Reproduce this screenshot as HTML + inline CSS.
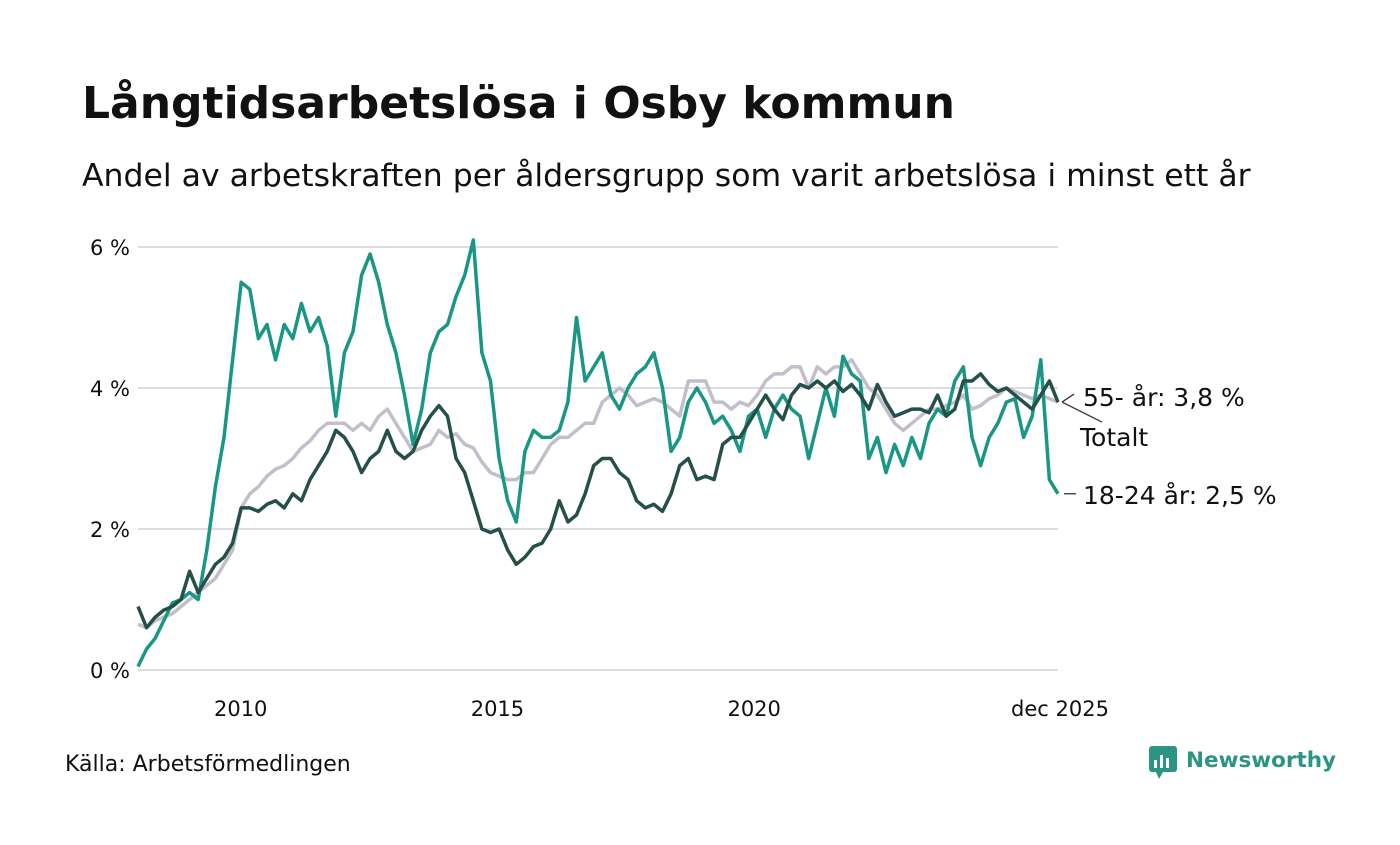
<!DOCTYPE html>
<html><head><meta charset="utf-8">
<style>
body{margin:0;background:#fff;width:1400px;height:840px;overflow:hidden;font-family:"Liberation Sans","DejaVu Sans",sans-serif;color:#111}
svg text{font-family:"DejaVu Sans","Liberation Sans",sans-serif}
</style></head>
<body>
<svg width="1400" height="840">
<text x="82" y="118" font-size="44" font-weight="bold" fill="#111">Långtidsarbetslösa i Osby kommun</text>
<text x="82" y="186" font-size="31.5" fill="#111">Andel av arbetskraften per åldersgrupp som varit arbetslösa i minst ett år</text>
<g id="grid"></g>
<g id="series"></g>
<g id="labels"></g>
<text x="65" y="771" font-size="22" fill="#111">Källa: Arbetsförmedlingen</text>
<g>
<rect x="1149" y="746" width="28" height="26" rx="3" fill="#2a9582"/>
<polygon points="1156,772 1163,772 1159,779" fill="#2a9582"/>
<rect x="1154" y="760" width="3" height="8" fill="#fff"/><rect x="1160" y="755" width="3" height="13" fill="#fff"/><rect x="1166" y="758" width="3" height="10" fill="#fff"/>
<text x="1186" y="767" font-size="21.5" font-weight="bold" fill="#2a9582">Newsworthy</text>
</g>
</svg>
<script>
const yTicks=[0,2,4,6];
const yTickLabels=["0 %","2 %","4 %","6 %"];
const xTickYears=[2010,2015,2020];
const xTickLabels=["2010","2015","2020","dec 2025"];
const youth=[0.05,0.3,0.45,0.7,0.95,1.0,1.1,1.0,1.7,2.6,3.3,4.4,5.5,5.4,4.7,4.9,4.4,4.9,4.7,5.2,4.8,5.0,4.6,3.6,4.5,4.8,5.6,5.9,5.5,4.9,4.5,3.9,3.2,3.7,4.5,4.8,4.9,5.3,5.6,6.1,4.5,4.1,3.0,2.4,2.1,3.1,3.4,3.3,3.3,3.4,3.8,5.0,4.1,4.3,4.5,3.9,3.7,4.0,4.2,4.3,4.5,4.0,3.1,3.3,3.8,4.0,3.8,3.5,3.6,3.4,3.1,3.6,3.7,3.3,3.7,3.9,3.7,3.6,3.0,3.5,4.0,3.6,4.45,4.2,4.1,3.0,3.3,2.8,3.2,2.9,3.3,3.0,3.5,3.7,3.6,4.1,4.3,3.3,2.9,3.3,3.5,3.8,3.85,3.3,3.6,4.4,2.7,2.5];
const total=[0.9,0.6,0.75,0.85,0.9,1.0,1.4,1.1,1.3,1.5,1.6,1.8,2.3,2.3,2.25,2.35,2.4,2.3,2.5,2.4,2.7,2.9,3.1,3.4,3.3,3.1,2.8,3.0,3.1,3.4,3.1,3.0,3.1,3.4,3.6,3.75,3.6,3.0,2.8,2.4,2.0,1.95,2.0,1.7,1.5,1.6,1.75,1.8,2.0,2.4,2.1,2.2,2.5,2.9,3.0,3.0,2.8,2.7,2.4,2.3,2.35,2.25,2.5,2.9,3.0,2.7,2.75,2.7,3.2,3.3,3.3,3.5,3.7,3.9,3.7,3.55,3.9,4.05,4.0,4.1,4.0,4.1,3.95,4.05,3.9,3.7,4.05,3.8,3.6,3.65,3.7,3.7,3.65,3.9,3.6,3.7,4.1,4.1,4.2,4.05,3.95,4.0,3.9,3.8,3.7,3.9,4.1,3.8];
const senior=[0.65,0.6,0.7,0.75,0.8,0.9,1.0,1.1,1.2,1.3,1.5,1.7,2.3,2.5,2.6,2.75,2.85,2.9,3.0,3.15,3.25,3.4,3.5,3.5,3.5,3.4,3.5,3.4,3.6,3.7,3.5,3.3,3.1,3.15,3.2,3.4,3.3,3.35,3.2,3.15,2.95,2.8,2.75,2.7,2.7,2.8,2.8,3.0,3.2,3.3,3.3,3.4,3.5,3.5,3.8,3.9,4.0,3.9,3.75,3.8,3.85,3.8,3.7,3.6,4.1,4.1,4.1,3.8,3.8,3.7,3.8,3.75,3.9,4.1,4.2,4.2,4.3,4.3,4.0,4.3,4.2,4.3,4.3,4.4,4.2,4.0,3.9,3.7,3.5,3.4,3.5,3.6,3.7,3.7,3.75,3.8,3.9,3.7,3.75,3.85,3.9,4.0,3.95,3.9,3.85,3.9,3.85,3.8];
const seriesLabels=["55- år: 3,8 %","Totalt","18-24 år: 2,5 %"];

const X0=138,X1=1058,Y0=670,PX=70.5;
const totalMonths=215;
const xMonth=m=>X0+(X1-X0)*m/totalMonths;
const xIdx=(i,n)=>xMonth(i*totalMonths/(n-1));
const y=v=>Y0-v*PX;
const NS="http://www.w3.org/2000/svg";
function mk(t,a,p){const e=document.createElementNS(NS,t);for(const k in a)e.setAttribute(k,a[k]);p.appendChild(e);return e;}
const grid=document.getElementById('grid');
yTicks.forEach((v,i)=>{
  const l=mk('line',{x1:138,x2:1058,y1:y(v),y2:y(v),stroke:'#dcdce2','stroke-width':2},grid);
  
  
  const t=mk('text',{x:130,y:y(v)+8,'font-size':21,'text-anchor':'end',fill:'#111'},grid);
  t.textContent=yTickLabels[i];
  
  
});
xTickYears.forEach((yr,i)=>{
  const t=mk('text',{x:xMonth((yr-2008)*12),y:716,'font-size':21,'text-anchor':'middle',fill:'#111'},grid);
  t.textContent=xTickLabels[i];
  
  
});
const tl=mk('text',{x:1060,y:716,'font-size':21,'text-anchor':'middle',fill:'#111'},grid);
tl.textContent=xTickLabels[3];


const sg=document.getElementById('series');
function line(data,color,name){
  const d=data.map((v,i)=>(i?'L':'M')+xIdx(i,data.length).toFixed(1)+','+y(v).toFixed(1)).join('');
  const p=mk('path',{d:d,fill:'none',stroke:color,'stroke-width':3.5,'stroke-linejoin':'round'},sg);
  
  
}
line(senior,'#c1bfcb','line-55-plus');
line(youth,'#1a9684','line-18-24');
line(total,'#254f49','line-total');
const lg=document.getElementById('labels');
const ends=[senior[senior.length-1],total[total.length-1],youth[youth.length-1]];
const lys=[y(ends[0])-5,y(ends[1])+35,y(ends[2])+1];
mk('line',{x1:1062,y1:y(ends[0]),x2:1074,y2:lys[0]-3,stroke:'#333','stroke-width':1.3},lg);
mk('line',{x1:1062,y1:y(ends[1]),x2:1102,y2:y(ends[1])+20,stroke:'#333','stroke-width':1.3},lg);
mk('line',{x1:1064,y1:y(ends[2]),x2:1076,y2:y(ends[2]),stroke:'#333','stroke-width':1.3},lg);
[[1083,lys[0]+9],[1080,lys[1]+9],[1083,lys[2]+9]].forEach((p,i)=>{
  const t=mk('text',{x:p[0],y:p[1],'font-size':25,fill:'#111'},lg);
  t.textContent=seriesLabels[i];
  
  
});
</script>
</body></html>
